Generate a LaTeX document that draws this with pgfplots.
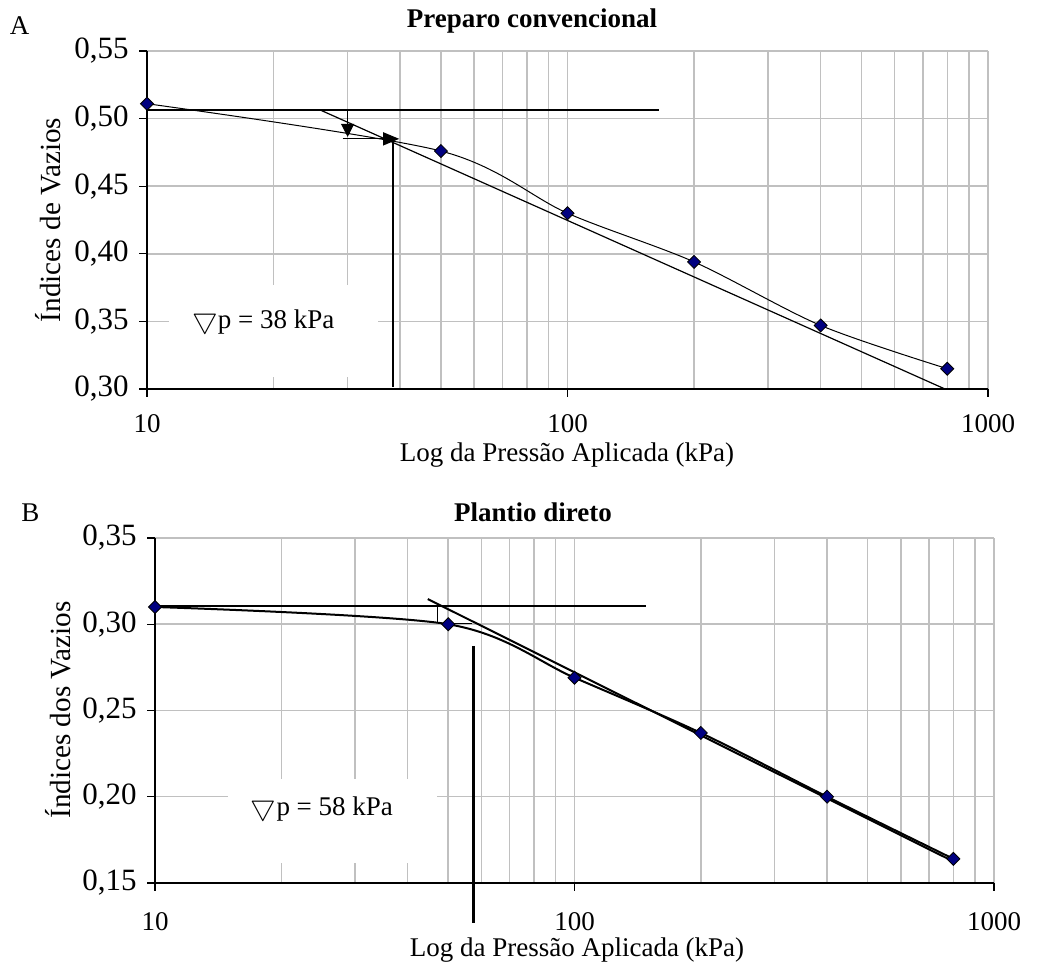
\documentclass[border=0pt]{standalone}
\usepackage{pgfplots}
\pgfplotsset{compat=1.18}
\usepackage{amssymb}
\usepackage{fontspec}
\setmainfont{Liberation Serif}
\usetikzlibrary{arrows.meta}
\definecolor{navyb}{RGB}{0,0,128}
\definecolor{gridgray}{RGB}{192,192,192}
\newcommand\fs{\fontsize{13.5pt}{16pt}\selectfont}
\newcommand\fsy{\fontsize{15.5pt}{18pt}\selectfont}
\newcommand\fsl{\fontsize{14.6pt}{17pt}\selectfont}
\pgfplotsset{
  myax/.style={
    scale only axis,
    xmin=10, xmax=1000,
    xtick={10,100,1000}, xticklabels={10,100,1000},
    grid=both,
    major grid style={color=gridgray, line width=0.75pt},
    minor grid style={color=gridgray, line width=0.75pt},
    minor tick length=0pt,
    major tick length=4pt,
    tick align=outside,
    axis x line*=bottom, axis y line*=left,
    axis line style={black, line width=0.6pt},
    tick style={black, line width=0.6pt},
    yticklabel style={font=\fsy, anchor=east, inner sep=0pt, xshift=-5pt},
    xticklabel style={font=\fs, anchor=north, inner sep=0pt, yshift=-8.5pt},
    clip=false,
  },
  dat/.style={smooth, tension=0.5, black, mark=square*, mark size=2.3pt,
    mark options={rotate=45, fill=navyb, draw=black, line width=0.4pt, solid}},
}
\begin{document}
\begin{tikzpicture}
\path[use as bounding box] (0,0) rectangle (519.5pt,481pt);
% ---------- Panel A ----------
\begin{semilogxaxis}[myax, at={(73.5pt,286.5pt)}, anchor=south west,
  width=420.5pt, height=169pt,
  ymin=0.30, ymax=0.55,
  ytick={0.30,0.35,0.40,0.45,0.50,0.55},
  yticklabels={{0,30},{0,35},{0,40},{0,45},{0,50},{0,55}}]
\fill[white] (axis cs:11.3,0.377) rectangle (axis cs:35.5,0.309);
\node[font=\fs] at (axis cs:18.9,0.35) {$\bigtriangledown$p = 38 kPa};
\addplot[black, line width=0.7pt] coordinates {(10,0.5064) (165,0.5064)};
\addplot[black, line width=0.6pt] coordinates {(25.8,0.5064) (790,0.300)};
\addplot[black, line width=0.6pt, -{Triangle[length=6.5pt,width=6.5pt]}] coordinates {(30,0.5064) (30,0.4864)};
\addplot[black, line width=0.6pt, -{Triangle[length=8pt,width=6.5pt]}] coordinates {(29.2,0.485) (39.8,0.485)};
\addplot[black, line width=1.3pt] coordinates {(38.5,0.484) (38.5,0.3015)};
\addplot[dat, line width=0.5pt] coordinates {(10,0.511) (50,0.476) (100,0.430) (200,0.394) (400,0.347) (800,0.315)};
\end{semilogxaxis}
% ---------- Panel B ----------
\begin{semilogxaxis}[myax, at={(77.5pt,39.5pt)}, anchor=south west,
  width=419.5pt, height=172.5pt,
  ymin=0.15, ymax=0.35,
  ytick={0.15,0.20,0.25,0.30,0.35},
  yticklabels={{0,15},{0,20},{0,25},{0,30},{0,35}},
  xticklabel style={yshift=-2pt}]
\fill[white] (axis cs:14.9,0.210) rectangle (axis cs:46.9,0.1616);
\node[font=\fs] at (axis cs:25,0.1935) {$\bigtriangledown$p = 58 kPa};
\addplot[black, line width=1pt] coordinates {(10,0.3106) (148,0.3106)};
\addplot[black, line width=1pt] coordinates {(44.7,0.3146) (800,0.1625)};
\addplot[black, line width=0.6pt] coordinates {(47.2,0.3106) (47.2,0.3007)};
\addplot[black, line width=0.6pt] coordinates {(47.2,0.3005) (57,0.3005)};
\addplot[black, line width=1.5pt] coordinates {(57.5,0.2874) (57.5,0.127)};
\addplot[dat, line width=1pt] coordinates {(10,0.310) (50,0.300) (100,0.269) (200,0.237) (400,0.200) (800,0.164)};
\end{semilogxaxis}
% ---------- Titles and labels ----------
\node[font=\fs\bfseries, anchor=base] at (266pt,467pt) {Preparo convencional};
\node[font=\fs\bfseries, anchor=base] at (266.5pt,220pt) {Plantio direto};
\node[font=\fs, anchor=base] at (9.75pt,463.5pt) {A};
\node[font=\fs, anchor=base] at (15.25pt,220pt) {B};
\node[font=\fsl, rotate=90, anchor=base] at (30.5pt,371pt) {Índices de Vazios};
\node[font=\fsl, rotate=90, anchor=base] at (35pt,126pt) {Índices dos Vazios};
\node[font=\fs, anchor=base] at (283.5pt,250pt) {Log da Pressão Aplicada (kPa)};
\node[font=\fs, anchor=base] at (288.5pt,2.5pt) {Log da Pressão Aplicada (kPa)};
\end{tikzpicture}
\end{document}
